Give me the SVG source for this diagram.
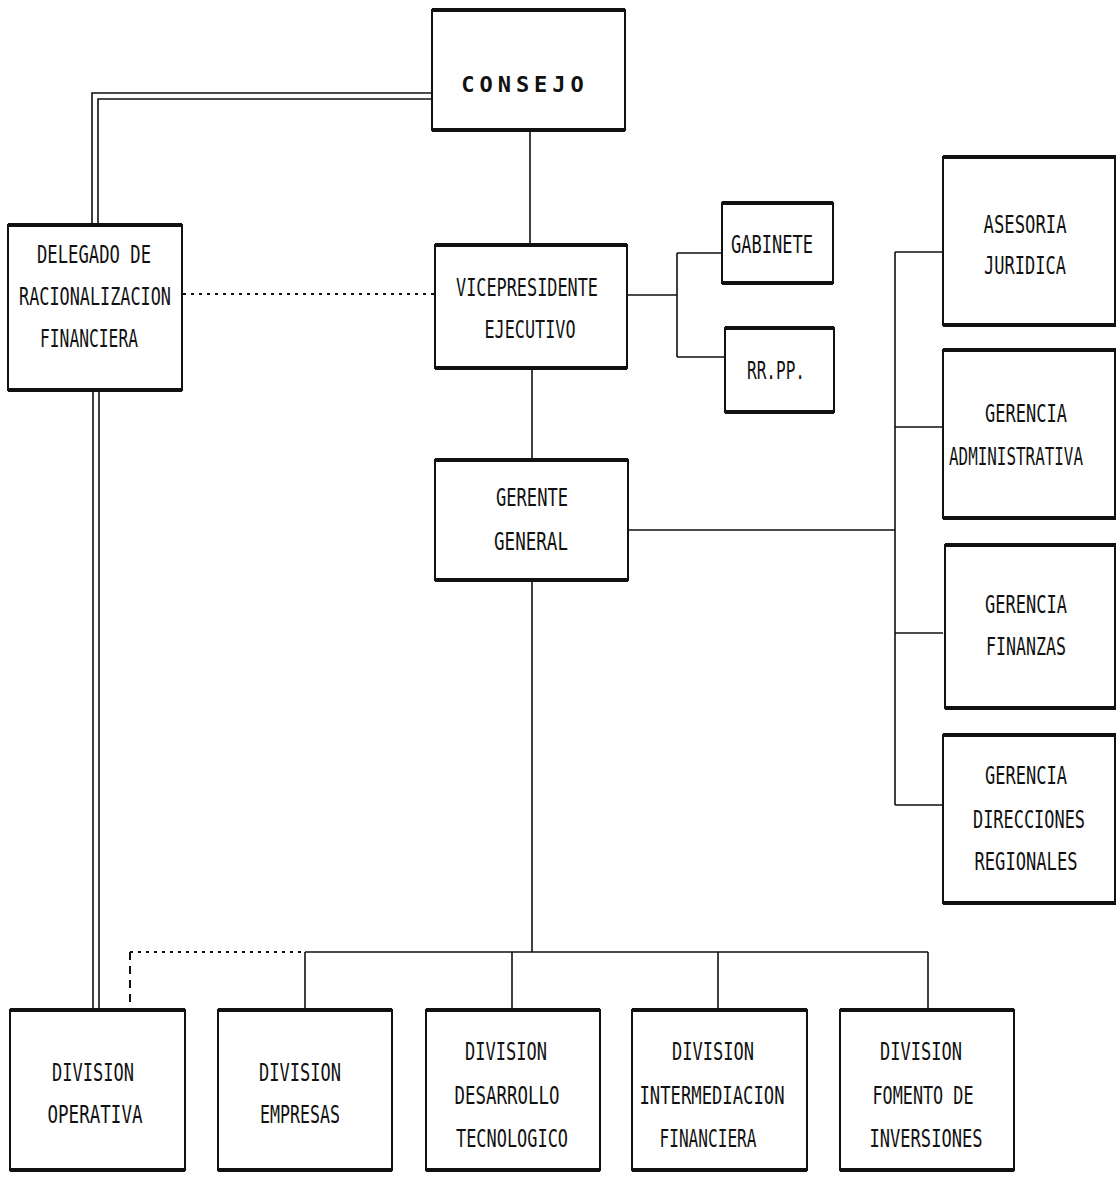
<svg xmlns="http://www.w3.org/2000/svg" width="1117" height="1177" viewBox="0 0 1117 1177">
<style>
.box{fill:#fff;stroke:#111;stroke-width:2}
.edge{stroke:#111;stroke-width:4;fill:none}
.ln{stroke:#111;stroke-width:1.6;fill:none}
.dot{stroke:#111;stroke-width:2;fill:none;stroke-dasharray:3 5}
.dash{stroke:#111;stroke-width:2;fill:none;stroke-dasharray:8 6}
text{font-family:"DejaVu Sans Mono","Liberation Mono",monospace;font-size:24px;fill:#111;text-anchor:middle}
.big{font-family:"DejaVu Sans Mono","Liberation Mono",monospace;font-weight:bold;font-size:22px;letter-spacing:5px}
</style>
<rect width="1117" height="1177" fill="#fff"/>
<g id="connectors">
<path class="ln" d="M432 93H92V225M432 99H98V225"/>
<path class="ln" d="M93 390V1010M99 390V1010"/>
<path class="ln" d="M530 130V245"/>
<path class="dot" d="M183 294H435"/>
<path class="ln" d="M627 295H677M677 253V357M677 253H722M677 357H725"/>
<path class="ln" d="M532 368V460"/>
<path class="ln" d="M628 530H895M895 252V805M895 252H943M895 427H943M895 633H943M895 805H943"/>
<path class="ln" d="M532 580V952M305 952H928M305 952V1010M512 952V1010M718 952V1010M928 952V1010"/>
<path class="dot" d="M130 952H305"/>
<path class="dash" d="M130 952V1010"/>
</g>
<g id="consejo"><rect class="box" x="432" y="10" width="193" height="120"/><path class="edge" d="M432 10H625M432 130H625"/><text class="big" x="525" y="92">CONSEJO</text></g>
<g id="delegado"><rect class="box" x="8" y="225" width="174" height="165"/><path class="edge" d="M8 225H182M8 390H182"/><text x="94" y="263" textLength="114" lengthAdjust="spacingAndGlyphs">DELEGADO DE</text><text x="95" y="305" textLength="152" lengthAdjust="spacingAndGlyphs">RACIONALIZACION</text><text x="89" y="347" textLength="98" lengthAdjust="spacingAndGlyphs">FINANCIERA</text></g>
<g id="vicepresidente"><rect class="box" x="435" y="245" width="192" height="123"/><path class="edge" d="M435 245H627M435 368H627"/><text x="527" y="296" textLength="142" lengthAdjust="spacingAndGlyphs">VICEPRESIDENTE</text><text x="530" y="338" textLength="91" lengthAdjust="spacingAndGlyphs">EJECUTIVO</text></g>
<g id="gabinete"><rect class="box" x="722" y="203" width="111" height="80"/><path class="edge" d="M722 203H833M722 283H833"/><text x="772" y="253" textLength="82" lengthAdjust="spacingAndGlyphs">GABINETE</text></g>
<g id="rrpp"><rect class="box" x="725" y="328" width="109" height="84"/><path class="edge" d="M725 328H834M725 412H834"/><text x="776" y="379" textLength="58" lengthAdjust="spacingAndGlyphs">RR.PP.</text></g>
<g id="gerente"><rect class="box" x="435" y="460" width="193" height="120"/><path class="edge" d="M435 460H628M435 580H628"/><text x="532" y="506" textLength="72" lengthAdjust="spacingAndGlyphs">GERENTE</text><text x="531" y="550" textLength="74" lengthAdjust="spacingAndGlyphs">GENERAL</text></g>
<g id="asesoria"><rect class="box" x="943" y="157" width="172" height="168"/><path class="edge" d="M943 157H1116M943 325H1116"/><text x="1025" y="233" textLength="83" lengthAdjust="spacingAndGlyphs">ASESORIA</text><text x="1025" y="274" textLength="82" lengthAdjust="spacingAndGlyphs">JURIDICA</text></g>
<g id="administrativa"><rect class="box" x="943" y="350" width="172" height="168"/><path class="edge" d="M943 350H1116M943 518H1116"/><text x="1026" y="422" textLength="82" lengthAdjust="spacingAndGlyphs">GERENCIA</text><text x="1016" y="465" textLength="134" lengthAdjust="spacingAndGlyphs">ADMINISTRATIVA</text></g>
<g id="finanzas"><rect class="box" x="945" y="545" width="170" height="163"/><path class="edge" d="M945 545H1116M945 708H1116"/><text x="1026" y="613" textLength="82" lengthAdjust="spacingAndGlyphs">GERENCIA</text><text x="1026" y="655" textLength="80" lengthAdjust="spacingAndGlyphs">FINANZAS</text></g>
<g id="direcciones"><rect class="box" x="943" y="735" width="172" height="168"/><path class="edge" d="M943 735H1116M943 903H1116"/><text x="1026" y="784" textLength="82" lengthAdjust="spacingAndGlyphs">GERENCIA</text><text x="1029" y="828" textLength="112" lengthAdjust="spacingAndGlyphs">DIRECCIONES</text><text x="1026" y="870" textLength="103" lengthAdjust="spacingAndGlyphs">REGIONALES</text></g>
<g id="operativa"><rect class="box" x="10" y="1010" width="175" height="160"/><path class="edge" d="M10 1010H185M10 1170H185"/><text x="93" y="1081" textLength="82" lengthAdjust="spacingAndGlyphs">DIVISION</text><text x="95" y="1123" textLength="95" lengthAdjust="spacingAndGlyphs">OPERATIVA</text></g>
<g id="empresas"><rect class="box" x="218" y="1010" width="174" height="160"/><path class="edge" d="M218 1010H392M218 1170H392"/><text x="300" y="1081" textLength="82" lengthAdjust="spacingAndGlyphs">DIVISION</text><text x="300" y="1123" textLength="80" lengthAdjust="spacingAndGlyphs">EMPRESAS</text></g>
<g id="desarrollo"><rect class="box" x="426" y="1010" width="174" height="160"/><path class="edge" d="M426 1010H600M426 1170H600"/><text x="506" y="1060" textLength="82" lengthAdjust="spacingAndGlyphs">DIVISION</text><text x="507" y="1104" textLength="105" lengthAdjust="spacingAndGlyphs">DESARROLLO</text><text x="512" y="1147" textLength="112" lengthAdjust="spacingAndGlyphs">TECNOLOGICO</text></g>
<g id="intermediacion"><rect class="box" x="632" y="1010" width="175" height="160"/><path class="edge" d="M632 1010H807M632 1170H807"/><text x="713" y="1060" textLength="82" lengthAdjust="spacingAndGlyphs">DIVISION</text><text x="712" y="1104" textLength="145" lengthAdjust="spacingAndGlyphs">INTERMEDIACION</text><text x="708" y="1147" textLength="97" lengthAdjust="spacingAndGlyphs">FINANCIERA</text></g>
<g id="fomento"><rect class="box" x="840" y="1010" width="174" height="160"/><path class="edge" d="M840 1010H1014M840 1170H1014"/><text x="921" y="1060" textLength="82" lengthAdjust="spacingAndGlyphs">DIVISION</text><text x="923" y="1104" textLength="101" lengthAdjust="spacingAndGlyphs">FOMENTO DE</text><text x="926" y="1147" textLength="113" lengthAdjust="spacingAndGlyphs">INVERSIONES</text></g>
</svg>
